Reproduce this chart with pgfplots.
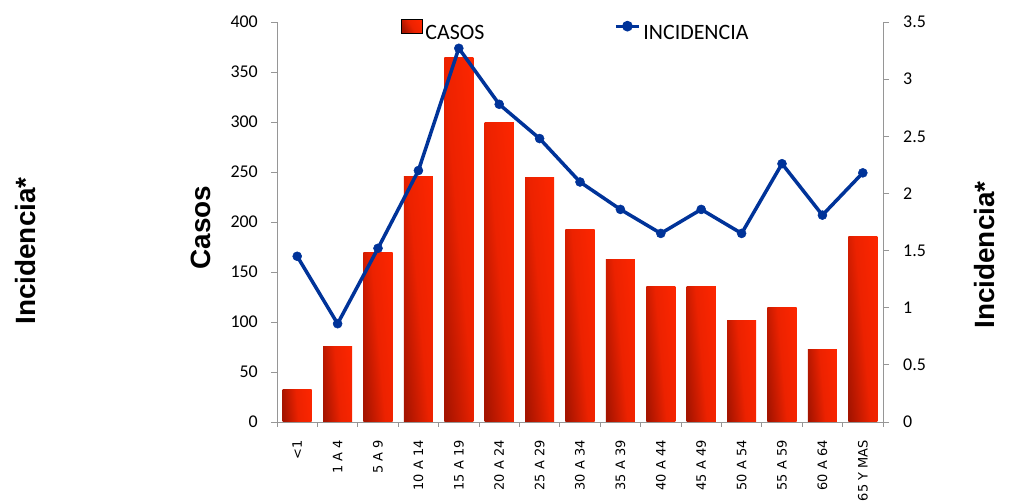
\documentclass[border=0pt]{standalone}
\usepackage{pgfplots}
\pgfplotsset{compat=1.18}
\usepackage{fontspec}
\setmainfont{Liberation Sans}
\newfontfamily\dejavu{DejaVu Sans}
\newfontfamily\carlito{Carlito}
\definecolor{barlight}{RGB}{252,38,0}
\definecolor{barmid}{RGB}{236,34,0}
\definecolor{bardark}{RGB}{165,20,0}
\definecolor{lineblue}{RGB}{0,51,153}
\definecolor{axgray}{RGB}{150,150,150}
\pgfplotsset{
  mybar/.style={draw=none, bar shift=0pt, top color=barlight, bottom color=bardark, middle color=barmid, shading angle=-85},
}
\begin{document}
\begin{tikzpicture}[x=1bp,y=1bp]
\useasboundingbox (0,0) rectangle (1009,502);
\begin{axis}[
  at={(277bp,80bp)}, anchor=south west,
  scale only axis, width=606bp, height=400bp,
  xmin=-0.5, xmax=14.5, ymin=0, ymax=400,
  axis x line=bottom, axis y line=left,
  axis line style={axgray, -, line width=0.8bp},
  xtick={0,...,14},
  xticklabels={{<1},{1 A 4},{5 A 9},{10 A 14},{15 A 19},{20 A 24},{25 A 29},{30 A 34},{35 A 39},{40 A 44},{45 A 49},{50 A 54},{55 A 59},{60 A 64},{65 Y MAS}},
  x tick label style={rotate=90, anchor=east, font=\dejavu\fontsize{13}{14}\selectfont, inner xsep=12bp, inner ysep=0pt},
  major x tick style={draw=none},
  minor xtick={-0.5,0.5,...,14.5},
  minor x tick style={axgray, line width=0.8bp},
  minor tick length=5bp,
  xtick align=outside,
  ytick={0,50,...,400},
  y tick label style={font=\carlito\fontsize{18}{19}\selectfont, inner sep=0pt, xshift=-13bp},
  ytick align=outside, major tick length=6bp,
  y tick style={axgray, line width=0.8bp},
  ylabel={\bfseries Casos},
  ylabel style={font=\fontsize{28}{30}\selectfont, at={(axis description cs:-0.1254,0.486)}, anchor=center},
  ybar, bar width=0.72,
  /pgf/number format/assume math mode=true,
  clip=false,
]
\addplot[mybar] coordinates {(0,32)};
\addplot[mybar] coordinates {(1,75)};
\addplot[mybar] coordinates {(2,169)};
\addplot[mybar] coordinates {(3,245)};
\addplot[mybar] coordinates {(4,364)};
\addplot[mybar] coordinates {(5,299)};
\addplot[mybar] coordinates {(6,244)};
\addplot[mybar] coordinates {(7,192)};
\addplot[mybar] coordinates {(8,162)};
\addplot[mybar] coordinates {(9,135)};
\addplot[mybar] coordinates {(10,135)};
\addplot[mybar] coordinates {(11,101)};
\addplot[mybar] coordinates {(12,114)};
\addplot[mybar] coordinates {(13,72)};
\addplot[mybar] coordinates {(14,185)};
\end{axis}
\begin{axis}[
  at={(277bp,80bp)}, anchor=south west,
  scale only axis, width=606bp, height=400bp,
  xmin=-0.5, xmax=14.5, ymin=0, ymax=3.5,
  axis x line=none, axis y line=right,
  axis line style={axgray, -, line width=0.8bp},
  ytick={0,0.5,...,3.5},
  yticklabels={0,0.5,1,1.5,2,2.5,3,3.5},
  y tick label style={font=\carlito\fontsize{18}{19}\selectfont, inner sep=0pt, xshift=14bp},
  ytick align=outside, major tick length=6bp,
  y tick style={axgray, line width=0.8bp},
  ylabel={\bfseries Incidencia*},
  ylabel style={font=\fontsize{28}{30}\selectfont, at={(axis description cs:1.168,0.4175)}, anchor=center},
  /pgf/number format/assume math mode=true,
  legend style={draw=none, fill=none, inner sep=0pt, outer sep=0pt,
    at={(axis description cs:0.2046,0.98)}, anchor=west,
    legend columns=2, font=\carlito\fontsize{22}{24}\selectfont,
    nodes={inner sep=0pt, outer sep=0pt},
    /tikz/every odd column/.append style={column sep=3bp},
    /tikz/every even column/.append style={column sep=130bp}},
  clip=false,
]
\addlegendimage{legend image code/.code={\shade[top color=barlight, bottom color=bardark, middle color=barmid, shading angle=-60] (0bp,0bp) rectangle (21bp,14bp);}}
\addlegendentry{CASOS}
\addplot[lineblue, line width=3.5bp, mark=*, mark size=4.5bp, mark options={fill=lineblue, line width=0.5bp},
  legend image code/.code={\draw[lineblue, line width=3bp] (0bp,7bp) -- (23bp,7bp); \fill[lineblue] (11.5bp,7bp) circle (3.5bp);}] coordinates {
(0,1.45) (1,0.86) (2,1.52) (3,2.20) (4,3.27) (5,2.78) (6,2.48) (7,2.10) (8,1.86) (9,1.65) (10,1.86) (11,1.65) (12,2.26) (13,1.81) (14,2.18)};
\addlegendentry{INCIDENCIA}
\end{axis}
\node[rotate=90, font=\bfseries\fontsize{28}{30}\selectfont] at (26,251) {Incidencia*};
\end{tikzpicture}
\end{document}
